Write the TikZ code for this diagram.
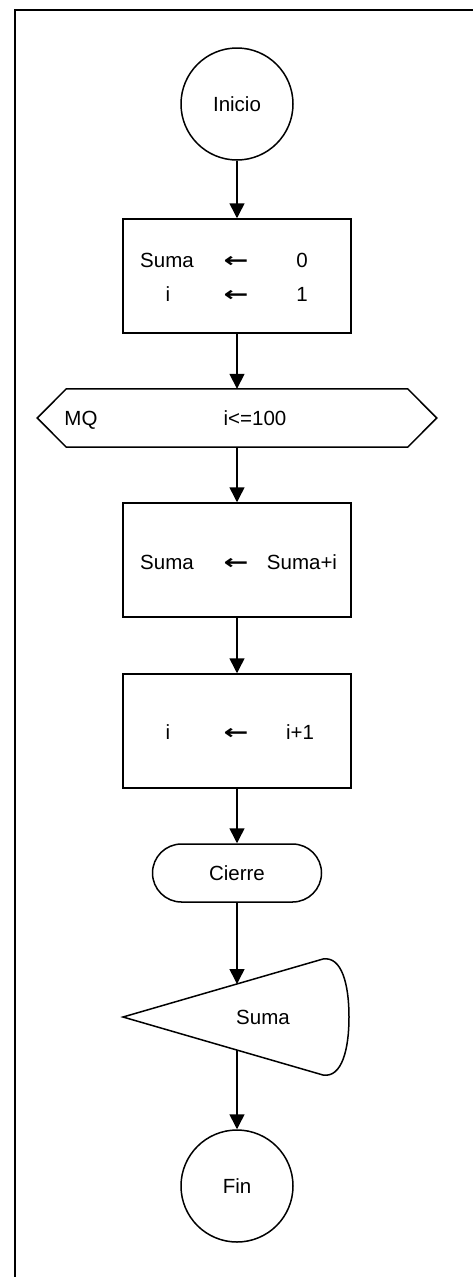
\documentclass[tikz,border=0pt]{standalone}
\usepackage{fontspec}
\setmainfont{Liberation Sans}
\newfontfamily\arrowfont{DejaVu Sans}[BoldFont={DejaVu Sans Bold}]
\usetikzlibrary{arrows.meta,shapes.misc}
\newcommand{\asg}{\scalebox{1.45}[1]{\arrowfont\bfseries ←}}
\begin{document}
\begin{tikzpicture}[x=1pt,y=-1pt,
  every node/.style={font=\fontsize{20.5}{24}\selectfont, inner sep=0pt},
  lbl/.style={text height=14.7pt, text depth=0pt},
  conn/.style={line width=1.5pt, -{Triangle[length=15pt,width=15pt]}},
  shp/.style={draw, line width=1.5pt},
  term/.style={shp, circle, minimum size=112pt},
  proc/.style={shp, rectangle, minimum width=228pt, minimum height=114pt},
  closer/.style={shp, rounded rectangle, minimum width=169pt, minimum height=58pt}]
\clip (0,0) rectangle (473,1277);
\fill[white] (0,0) rectangle (473,1277);
\draw[line width=2.5pt] (15,10) rectangle (500,1300);

% Inicio
\node[term] (ini) at (237,104) {Inicio};

% Box 1
\node[proc] (b1) at (237,276) {};
\node[lbl] (b1a) at (167,260) {Suma};
\node[lbl] (b1b) at (236,260) {\asg};
\node[lbl] (b1c) at (302,260) {0};
\node[lbl] (b1d) at (168,294) {i};
\node[lbl] (b1e) at (236,294) {\asg};
\node[lbl] (b1f) at (302,294) {1};

% MQ hexagon
\node[minimum width=399pt, minimum height=58pt] (mq) at (237,418) {};
\draw[line width=1.5pt] (mq.west) -- ([xshift=29pt]mq.north west) -- ([xshift=-29pt]mq.north east)
  -- (mq.east) -- ([xshift=-29pt]mq.south east) -- ([xshift=29pt]mq.south west) -- cycle;
\node[lbl] (mqa) at (81,418) {MQ};
\node[lbl] (mqb) at (255,418) {i<=100};

% Box 2
\node[proc] (b2) at (237,560) {};
\node[lbl] (b2a) at (167,562) {Suma};
\node[lbl] (b2b) at (236,562) {\asg};
\node[lbl] (b2c) at (302,562) {Suma+i};

% Box 3
\node[proc] (b3) at (237,731) {};
\node[lbl] (b3a) at (168,732) {i};
\node[lbl] (b3b) at (236,732) {\asg};
\node[lbl] (b3c) at (300,732) {i+1};

% Cierre
\node[closer] (cie) at (237,873) {Cierre};

% Display
\coordinate (dl) at (123,1017);
\coordinate (dtr) at (323,959);
\coordinate (dbr) at (323,1075);
\draw[line width=1.5pt] (dl) -- (dtr) .. controls (342,956) and (349,985) .. (349,1017)
  .. controls (349,1049) and (342,1078) .. (dbr) -- cycle;
\coordinate (dtop) at (237,984);
\coordinate (dbot) at (237,1050);
\node[lbl] (dtxt) at (263,1017) {Suma};

% Fin
\node[term] (fin) at (237,1186) {Fin};

% connectors
\draw[conn] (ini) -- (b1);
\draw[conn] (b1) -- (mq);
\draw[conn] (mq) -- (b2);
\draw[conn] (b2) -- (b3);
\draw[conn] (b3) -- (cie);
\draw[conn] (cie) -- (dtop);
\draw[conn] (dbot) -- (fin);
\end{tikzpicture}
\end{document}
